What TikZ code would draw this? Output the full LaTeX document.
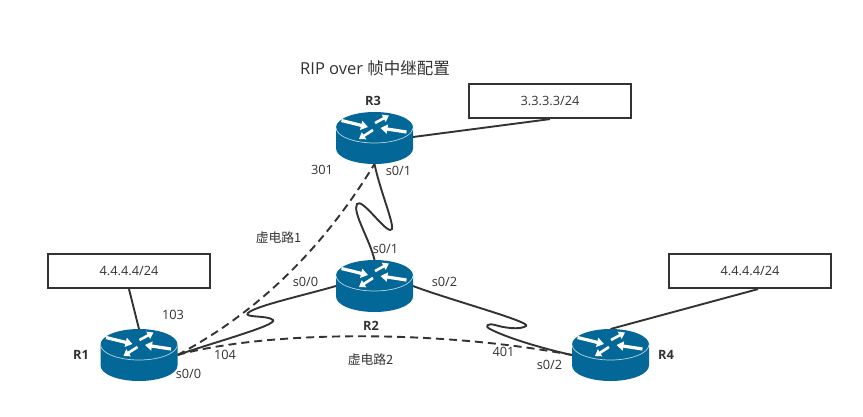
\documentclass[tikz,border=0pt]{standalone}
\usepackage{fontspec}
\setmainfont{Open Sans}
\newfontfamily\cjkf{Noto Sans CJK SC}
\usetikzlibrary{arrows.meta}
\definecolor{rblue}{HTML}{036897}
\definecolor{ink}{HTML}{333333}
\tikzset{
  routerbase/.style={minimum width=77pt,minimum height=52pt,inner sep=0pt,outer sep=0pt},
  wire/.style={draw=ink,line width=1.9pt},
  vc/.style={draw=ink,line width=1.9pt,dash pattern=on 8pt off 5pt},
  netbox/.style={draw=ink,line width=2.2pt,fill=white,minimum width=162pt,minimum height=34pt,inner sep=0pt,text=ink,font=\fontsize{12.8}{14}\selectfont},
  lab/.style={text=ink,inner sep=0pt,font=\fontsize{12.8}{14}\selectfont},
  rname/.style={text=ink,inner sep=0pt,font=\fontsize{12.8}{14}\selectfont\bfseries},
  rarrow/.style={white,line width=3.2pt,-{Triangle[length=7pt,width=9pt]}},
  rarrowb/.style={white,line width=2.6pt,-{Triangle[length=6pt,width=8pt]}}
}
\newcommand{\routerart}[1]{%
  \begin{scope}[shift={(#1.center)}]
    \fill[rblue] (-38.5,-10.5) -- (-38.5,10.5) arc[start angle=180,end angle=0,x radius=38.5,y radius=15.5] -- (38.5,-10.5) arc[start angle=0,end angle=-180,x radius=38.5,y radius=15.5] -- cycle;
    \draw[white!70!rblue,line width=0.7pt] (-38.5,-10.5) arc[start angle=180,end angle=0,x radius=38.5,y radius=15.5];
    \draw[rarrow] (-33,-17.5) -- (-6.5,-11);
    \draw[rarrowb] (0.5,-15) -- (14.5,-22.5);
    \draw[rarrow] (32,-6) -- (6,-10);
    \draw[rarrowb] (-1.5,-8) -- (-15.5,1);
  \end{scope}}
\begin{document}
\begin{tikzpicture}[x=1pt,y=-1pt]
\useasboundingbox[fill=white] (0,0) rectangle (863,416);
\node[routerbase] (R3) at (374.5,138) {};
\node[routerbase] (R2) at (374.5,286) {};
\node[routerbase] (R1) at (139,355) {};
\node[routerbase] (R4) at (610.5,355) {};
\node[netbox] (box3) at (550,101) {3.3.3.3/24};
\node[netbox] (box1) at (129,271) {4.4.4.4/24};
\node[netbox] (box4) at (750,271) {4.4.4.4/24};
\draw[wire] ([yshift=1pt]R3.east) -- (box3.south);
\draw[wire] (R3.south) .. controls (381,195) and (398,232) .. (390,230)
  .. controls (382,228) and (362,198) .. (357,204)
  .. controls (352,212) and (370,240) .. (R2.north);
\draw[wire] (R1.east) .. controls (215,342) and (278,325) .. (273,320)
  .. controls (268,315) and (243,318) .. (248,313)
  .. controls (255,306) and (305,295) .. (R2.west);
\draw[wire] (R2.east) .. controls (450,300) and (532,322) .. (526,326)
  .. controls (520,330) and (505,328) .. (495,325)
  .. controls (488,323) and (484,326) .. (490,329)
  .. controls (505,337) and (540,348) .. (R4.west);
\draw[wire] (box1.south) -- (R1.north);
\draw[wire] (R4.north) -- ([xshift=8pt]box4.south);
\draw[vc] (R1.east) .. controls (262,310) and (325,245) .. (R3.south);
\draw[vc] (R1.east) .. controls (270,330) and (440,330) .. (R4.west);
\routerart{R3}
\routerart{R2}
\routerart{R1}
\routerart{R4}
\node[text=ink,inner sep=0pt,anchor=west,font=\fontsize{16.5}{18}\selectfont] (title) at (300,68) {RIP over {\cjkf 帧中继配置}};
\node[rname] (nR3) at (373,101) {R3};
\node[rname] (nR2) at (371,326) {R2};
\node[rname] (nR1) at (81,355) {R1};
\node[rname] (nR4) at (666,355) {R4};
\node[lab] (l301) at (322,170) {301};
\node[lab] (l301b) at (398.5,171) {s0/1};
\node[lab] (lv1) at (278.5,238) {\cjkf 虚电路1};
\node[lab] (ls21) at (385.5,249) {s0/1};
\node[lab] (ls20) at (305.5,282) {s0/0};
\node[lab] (ls22) at (444.5,282) {s0/2};
\node[lab] (l103) at (173,315) {103};
\node[lab] (l104) at (225,355) {104};
\node[lab] (lv2) at (370.5,360) {\cjkf 虚电路2};
\node[lab] (l401) at (503.5,352) {401};
\node[lab] (ls42) at (549.5,365) {s0/2};
\node[lab] (ls10) at (188.5,374) {s0/0};
\end{tikzpicture}
\end{document}
